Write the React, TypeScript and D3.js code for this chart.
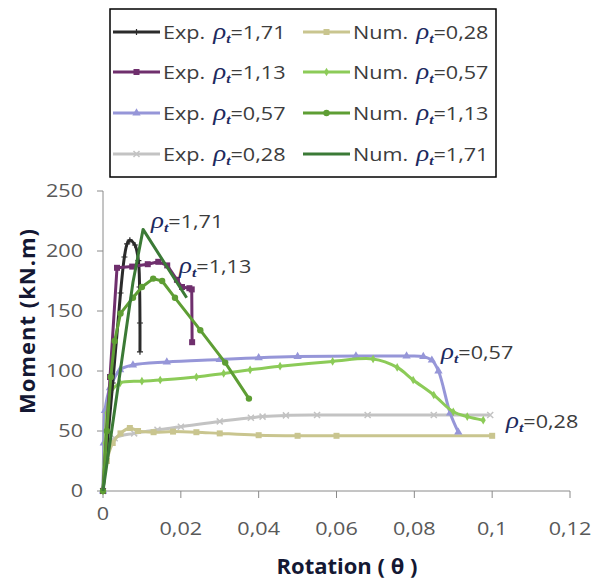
import React from 'react';
import * as d3 from 'd3';

// rotation (theta) / moment (kN.m)
const exp171Theta = [0, 0.0025, 0.0045, 0.0055, 0.0062, 0.0069, 0.0082, 0.0091, 0.0094, 0.0095, 0.0095];
const exp171Moment = [0, 90, 165, 195, 206, 209, 205, 192, 170, 140, 116];

const exp113Theta = [0, 0.0018, 0.0036, 0.0075, 0.0115, 0.0142, 0.0165, 0.019, 0.0203, 0.0222, 0.0228, 0.0229];
const exp113Moment = [0, 95, 186, 187, 189, 191, 188, 176, 170, 169, 168, 124];

const exp057Theta = [0, 0.0002, 0.0005, 0.0018, 0.0044, 0.0077, 0.0164, 0.03, 0.04, 0.05, 0.065, 0.078, 0.0823, 0.0845, 0.0862, 0.0892, 0.0913];
const exp057Moment = [0, 40, 67, 86, 101, 105, 107.5, 109.5, 111, 112, 112.5, 112.5, 112, 109, 100, 65, 49];

const exp028Theta = [0, 0.001, 0.003, 0.008, 0.014, 0.02, 0.03, 0.038, 0.041, 0.047, 0.055, 0.068, 0.085, 0.0995];
const exp028Moment = [0, 35, 44, 48, 51, 53.5, 58, 61, 62, 63, 63.3, 63.3, 63.3, 63.3];

const num028Theta = [0, 0.001, 0.0025, 0.0045, 0.0069, 0.009, 0.013, 0.018, 0.024, 0.03, 0.04, 0.05, 0.06, 0.1];
const num028Moment = [0, 25, 40, 48, 52.5, 50, 49, 49.5, 49, 48, 46.5, 46, 46, 46];

const num057Theta = [0, 0.0005, 0.001, 0.002, 0.0044, 0.01, 0.0147, 0.024, 0.031, 0.0378, 0.0455, 0.059, 0.0694, 0.0756, 0.0797, 0.085, 0.09, 0.0936, 0.0977];
const num057Moment = [0, 40, 65, 82, 90, 91.5, 92.5, 95, 98, 101, 104, 108, 110, 103, 92.5, 80, 66, 62, 59];

const num113Theta = [0, 0.001, 0.002, 0.003, 0.0045, 0.0077, 0.01, 0.0129, 0.0152, 0.0185, 0.025, 0.0314, 0.0375];
const num113Moment = [0, 50, 95, 125, 148, 161, 170, 177, 175, 161, 134, 107, 77];

const num171Theta = [0, 0.004, 0.0077, 0.0103, 0.0215];
const num171Moment = [0, 90, 174, 218, 161];

const xTicks = [0, 0.02, 0.04, 0.06, 0.08, 0.1, 0.12];
const yTicks = [0, 50, 100, 150, 200, 250];

type Marker = 'plus' | 'square' | 'triangle' | 'cross' | 'smallsq' | 'diamond' | 'circle' | 'none';

const series = [
  { label: 'Exp.', rho: '1,71', theta: exp171Theta, moment: exp171Moment, color: '#2b2b2b', marker: 'plus' as Marker, smooth: true },
  { label: 'Exp.', rho: '1,13', theta: exp113Theta, moment: exp113Moment, color: '#6f2f6d', marker: 'square' as Marker, smooth: false },
  { label: 'Exp.', rho: '0,57', theta: exp057Theta, moment: exp057Moment, color: '#9696d8', marker: 'triangle' as Marker, smooth: true },
  { label: 'Exp.', rho: '0,28', theta: exp028Theta, moment: exp028Moment, color: '#c3c3c3', marker: 'cross' as Marker, smooth: true },
  { label: 'Num.', rho: '0,28', theta: num028Theta, moment: num028Moment, color: '#c9c58f', marker: 'smallsq' as Marker, smooth: true },
  { label: 'Num.', rho: '0,57', theta: num057Theta, moment: num057Moment, color: '#8ccb58', marker: 'diamond' as Marker, smooth: true },
  { label: 'Num.', rho: '1,13', theta: num113Theta, moment: num113Moment, color: '#5e9e34', marker: 'circle' as Marker, smooth: false },
  { label: 'Num.', rho: '1,71', theta: num171Theta, moment: num171Moment, color: '#3b7a36', marker: 'none' as Marker, smooth: false },
];

// draw order: lighter / long curves first
const drawOrder = [3, 4, 2, 5, 0, 1, 6, 7];

const x = d3.scaleLinear().domain([0, 0.12]).range([103, 570]);
const y = d3.scaleLinear().domain([0, 250]).range([491, 191]);

const fmt = (v: number) => (v === 0 ? '0' : String(+v.toFixed(2)).replace('.', ','));

// the source picture is a bit stretched sideways, so text gets a horizontal scale
const STRETCH = 1.2;

const MarkerShape = ({ kind, cx, cy, color }: { kind: Marker; cx: number; cy: number; color: string }) => {
  switch (kind) {
    case 'plus':
      return <path d={`M${cx - 3},${cy}H${cx + 3}M${cx},${cy - 3}V${cy + 3}`} stroke={color} strokeWidth={1.2} />;
    case 'square':
      return <rect x={cx - 3} y={cy - 3} width={6} height={6} fill={color} />;
    case 'triangle':
      return <path d={d3.symbol(d3.symbolTriangle, 30)()!} transform={`translate(${cx},${cy})`} fill={color} />;
    case 'cross':
      return <path d={`M${cx - 3},${cy - 3}L${cx + 3},${cy + 3}M${cx - 3},${cy + 3}L${cx + 3},${cy - 3}`} stroke={color} strokeWidth={1.5} />;
    case 'smallsq':
      return <rect x={cx - 3} y={cy - 3} width={6} height={6} fill={color} />;
    case 'diamond':
      return <path d={d3.symbol(d3.symbolDiamond, 22)()!} transform={`translate(${cx},${cy})`} fill={color} />;
    case 'circle':
      return <circle cx={cx} cy={cy} r={3.2} fill={color} />;
    default:
      return null;
  }
};

const RhoLabel = ({ px, py, prefix, value, size = 18, fill = '#3c3c3c' }: { px: number; py: number; prefix?: string; value: string; size?: number; fill?: string }) => (
  <g transform={`translate(${px},${py}) scale(${STRETCH},1)`}>
    <text x={0} y={0} fontFamily="'Open Sans'" fontSize={size} fill={fill}>
      {prefix ? prefix + ' ' : ''}
      <tspan fontFamily="'Liberation Serif'" fontStyle="italic" fontSize={size * 1.25} fill="#1d2a5e" dx={prefix ? 2 : 0}>ρ</tspan>
      <tspan fontFamily="'Liberation Serif'" fontStyle="italic" fontWeight="bold" fontSize={size * 0.72} dy={4} fill="#1d2a5e">t</tspan>
      <tspan dy={-4}>={value}</tspan>
    </text>
  </g>
);

export default function App() {
  const lineSmooth = d3.line<[number, number]>().x(d => x(d[0])).y(d => y(d[1])).curve(d3.curveCatmullRom.alpha(0.5));
  const lineStraight = d3.line<[number, number]>().x(d => x(d[0])).y(d => y(d[1]));

  const legendRows = [32, 72, 113, 154];
  const legendCols = [113, 303];

  return (
    <svg width={599} height={581} style={{ position: 'absolute', left: 0, top: 0, background: '#fff' }}>
      {/* axes */}
      <line x1={x(0)} x2={x(0)} y1={y(250)} y2={y(0)} stroke="#8a8a8a" strokeWidth={1} />
      <line x1={x(0)} x2={x(0.12)} y1={y(0)} y2={y(0)} stroke="#8a8a8a" strokeWidth={1} />
      {yTicks.map(t => (
        <g key={'y' + t}>
          <line x1={x(0) - 6} x2={x(0)} y1={y(t)} y2={y(t)} stroke="#8a8a8a" />
          <g transform={`translate(83,${y(t)}) scale(${STRETCH},1)`}>
            <text dy="0.36em" textAnchor="end" fontFamily="'Open Sans'" fontSize={18} fill="#595959">{t}</text>
          </g>
        </g>
      ))}
      {xTicks.map(t => (
        <g key={'x' + t}>
          <line x1={x(t)} x2={x(t)} y1={y(0)} y2={y(0) + 7} stroke="#8a8a8a" />
          <g transform={`translate(${x(t)},${t === 0 ? 520 : 535}) scale(${STRETCH},1)`}>
            <text textAnchor="middle" fontFamily="'Open Sans'" fontSize={18} fill="#595959">{fmt(t)}</text>
          </g>
        </g>
      ))}

      {/* curves */}
      {drawOrder.map(i => {
        const s = series[i];
        const pts = s.theta.map((t, k) => [t, s.moment[k]] as [number, number]);
        return (
          <g key={'s' + i}>
            <path d={(s.smooth ? lineSmooth : lineStraight)(pts)!} fill="none" stroke={s.color} strokeWidth={3} strokeLinejoin="round" />
            {pts.map((p, k) => (
              <MarkerShape key={k} kind={s.marker} cx={x(p[0])} cy={y(p[1])} color={s.color} />
            ))}
          </g>
        );
      })}

      {/* annotations */}
      <RhoLabel px={151} py={228} value="1,71" />
      <RhoLabel px={179} py={273} value="1,13" />
      <RhoLabel px={441} py={359} value="0,57" />
      <RhoLabel px={506} py={428} value="0,28" />

      {/* axis titles */}
      <text x={347} y={574} textAnchor="middle" fontFamily="'Open Sans'" fontWeight="bold" fontSize={22} fill="#141833">Rotation ( θ )</text>
      <text transform="translate(35,321) rotate(-90)" textAnchor="middle" fontFamily="'Open Sans'" fontWeight="bold" fontSize={22} letterSpacing={1} fill="#141833">Moment (kN.m)</text>

      {/* legend */}
      <rect x={110} y={9} width={386} height={168} fill="#fff" stroke="#000" strokeWidth={1.5} />
      {series.map((s, i) => {
        const col = Math.floor(i / 4);
        const row = i % 4;
        const lx = legendCols[col];
        const ly = legendRows[row];
        return (
          <g key={'l' + i}>
            <line x1={lx} x2={lx + 47} y1={ly} y2={ly} stroke={s.color} strokeWidth={3} />
            <MarkerShape kind={s.marker} cx={lx + 23.5} cy={ly} color={s.color} />
            <RhoLabel px={lx + 50} py={ly + 7} prefix={s.label} value={s.rho} />
          </g>
        );
      })}
    </svg>
  );
}
